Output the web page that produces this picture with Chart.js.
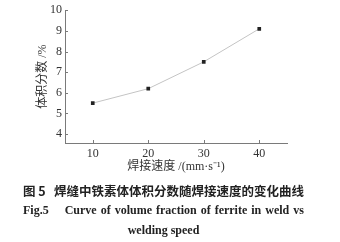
<!DOCTYPE html>
<html>
<head>
<meta charset="utf-8">
<script src="https://cdn.jsdelivr.net/npm/chart.js@4"></script>
<style>
  html, body { margin: 0; padding: 0; background: #fff; }
  #wrap { position: relative; width: 340px; height: 242px; overflow: hidden; }
  canvas { position: absolute; left: 0; top: 0; }
  .cap { position: absolute; left: 0; width: 327px; text-align: center; color: #222; font-weight: bold; white-space: nowrap; }
  #c1 { top: 181px; font: bold 12.5px "Noto Sans CJK SC", sans-serif; letter-spacing: 0; }
  #c2 { top: 203px; font: bold 12px "Liberation Serif", "DejaVu Serif", serif; word-spacing: 1px; }
  #c3 { top: 223px; font: bold 12px "Liberation Serif", "DejaVu Serif", serif; }
</style>
</head>
<body>
<div id="wrap">
  <canvas id="myChart" width="340" height="242"></canvas>
  <div class="cap" id="c1">图 5&nbsp;&nbsp;&nbsp;焊缝中铁素体体积分数随焊接速度的变化曲线</div>
  <div class="cap" id="c2">Fig.5&nbsp;&nbsp;&nbsp;&nbsp;Curve of volume fraction of ferrite in weld vs</div>
  <div class="cap" id="c3">welding speed</div>
</div>
<script>
const speeds = [10, 20, 30, 40];
const fraction = [5.5, 6.2, 7.5, 9.1];
const xTicks = [10, 20, 30, 40];
const yTicks = [4, 5, 6, 7, 8, 9, 10];

const fontFamily = '"Liberation Serif", "Noto Sans CJK SC", serif';
const axisColor = '#7a7a7a';

// small tick marks pointing into the plot
const innerTicks = {
    id: 'innerTicks',
    afterDraw(chart) {
        const c = chart.ctx;
        const x = chart.scales.x;
        const y = chart.scales.y;
        c.save();
        c.strokeStyle = axisColor;
        c.lineWidth = 1;
        c.beginPath();
        yTicks.forEach(v => {
            const py = Math.round(y.getPixelForValue(v)) + 0.5;
            c.moveTo(x.left, py);
            c.lineTo(x.left + 3, py);
        });
        xTicks.forEach(v => {
            const px = Math.round(x.getPixelForValue(v)) + 0.5;
            c.moveTo(px, y.bottom);
            c.lineTo(px, y.bottom - 3);
        });
        c.stroke();
        c.restore();
    }
};

const ctx = document.getElementById('myChart').getContext('2d');
const myChart = new Chart(ctx, {
    type: 'line',
    data: {
        datasets: [{
            data: speeds.map((s, i) => ({ x: s, y: fraction[i] })),
            borderColor: '#c4c4c4',
            borderWidth: 1,
            pointStyle: 'rect',
            pointRadius: 2.6,
            pointBackgroundColor: '#222',
            pointBorderColor: '#222',
            pointBorderWidth: 0,
            tension: 0
        }]
    },
    options: {
        responsive: false,
        animation: false,
        layout: { padding: { top: 8, right: 53, left: 0, bottom: 0 } },
        plugins: {
            legend: { display: false },
            tooltip: { enabled: false }
        },
        scales: {
            x: {
                type: 'linear',
                min: 5,
                max: 45,
                afterBuildTicks: s => { s.ticks = xTicks.map(v => ({ value: v })); },
                afterFit: s => { s.height = 99; },
                grid: { display: true, drawOnChartArea: false, drawTicks: false },
                border: { display: true, color: axisColor, width: 1 },
                ticks: {
                    padding: 4,
                    color: '#333',
                    font: { family: fontFamily, size: 12 },
                    maxRotation: 0
                },
                title: {
                    display: true,
                    text: '焊接速度 /(mm·s⁻¹)',
                    color: '#333',
                    font: { family: fontFamily, size: 12 },
                    padding: { top: 0, bottom: 68 }
                }
            },
            y: {
                min: 3.57,
                max: 10,
                afterBuildTicks: s => { s.ticks = yTicks.map(v => ({ value: v })); },
                afterFit: s => { s.width = 65; },
                grid: { display: true, drawOnChartArea: false, drawTicks: false },
                border: { display: true, color: axisColor, width: 1 },
                ticks: {
                    padding: 3,
                    color: '#333',
                    font: { family: fontFamily, size: 12 }
                },
                title: {
                    display: true,
                    text: '体积分数 /%',
                    color: '#333',
                    font: { family: fontFamily, size: 12 },
                    padding: { top: 35.5, bottom: 0 }
                }
            }
        }
    },
    plugins: [innerTicks]
});
</script>
</body>
</html>
